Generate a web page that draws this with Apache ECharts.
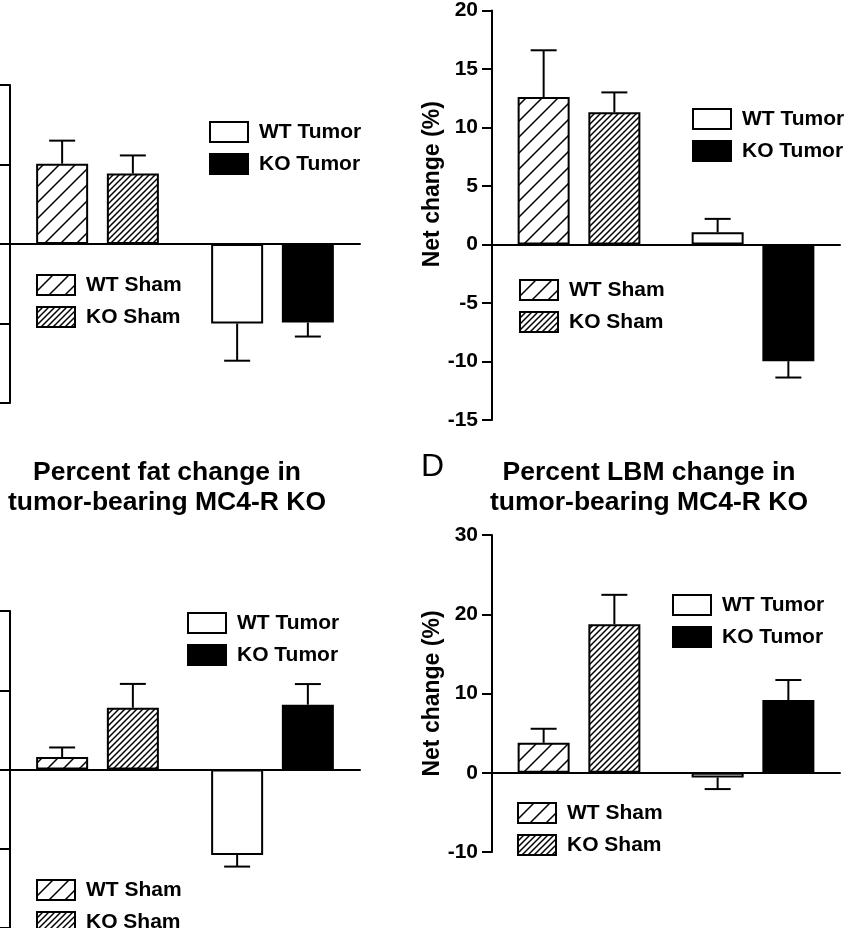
<!DOCTYPE html>
<html>
<head>
<meta charset="utf-8">
<script src="https://cdn.jsdelivr.net/npm/echarts@6/dist/echarts.min.js"></script>
<style>html,body{margin:0;padding:0;background:#fff}#c{width:850px;height:928px}</style>
</head>
<body>
<div id="c"></div>
<script>
// ---- data ----
const groups = ["Sham", "Tumor"];
const seriesNames = ["WT Sham", "KO Sham", "WT Tumor", "KO Tumor"];
// Panel A (top-left, axis labels cropped out)
const aMeans = [5.05, 4.43, -5.0, -4.94];
const aSem   = [1.45, 1.14, 2.34, 0.88];
const aTicks = [-10, -5, 0, 5, 10];
// Panel B (top-right)
const bMeans = [12.6, 11.3, 1.04, -9.97];
const bSem   = [4.0, 1.7, 1.15, 1.4];
const bTicks = [-15, -10, -5, 0, 5, 10, 15, 20];
// Panel C (bottom-left, axis labels cropped out)
const cMeans = [1.58, 7.8, -10.78, 8.18];
const cSem   = [1.2, 3.0, 1.47, 2.6];
const cTicks = [-20, -10, 0, 10, 20];
// Panel D (bottom-right)
const dMeans = [3.78, 18.75, -0.59, 9.17];
const dSem   = [1.77, 3.7, 1.47, 2.53];
const dTicks = [-10, 0, 10, 20, 30];

const yName = "Net change (%)";
const titleC = "Percent fat change in\ntumor-bearing MC4-R KO";
const titleD = "Percent LBM change in\ntumor-bearing MC4-R KO";
const panelLetter = "D";

// ---- styling ----
const FONT = '"Liberation Sans", Arial, Helvetica, sans-serif';
const BW = 52, GAP = 0.36;

function hatch(period, lw) {
  const c = document.createElement('canvas');
  c.width = c.height = period;
  const g = c.getContext('2d');
  g.fillStyle = '#fff'; g.fillRect(0, 0, period, period);
  g.strokeStyle = '#000'; g.lineWidth = lw;
  g.beginPath();
  g.moveTo(-1, period + 1); g.lineTo(period + 1, -1);
  g.moveTo(-period / 2 - 1, period / 2 + 1); g.lineTo(period / 2 + 1, -period / 2 - 1);
  g.moveTo(period / 2 - 1, period * 1.5 + 1); g.lineTo(period * 1.5 + 1, period / 2 - 1);
  g.stroke();
  return c;
}
const fills = [
  { image: hatch(16, 1.5), repeat: 'repeat' },
  { image: hatch(6, 1.5), repeat: 'repeat' },
  '#ffffff',
  '#000000'
];
const stacks = ['WT', 'KO', 'WT', 'KO'];

const panels = [
  { means: aMeans, sem: aSem, ticks: aTicks, grid: { left: 10, top: 85, width: 350, height: 318 }, labels: false,
    tumorLeg: { left: 209, top: 121 }, shamLeg: { left: 36, top: 274 } },
  { means: bMeans, sem: bSem, ticks: bTicks, grid: { left: 492, top: 7, width: 348, height: 413 }, labels: true, namePad: 62,
    tumorLeg: { left: 692, top: 108 }, shamLeg: { left: 519, top: 279 } },
  { means: cMeans, sem: cSem, ticks: cTicks, grid: { left: 10, top: 611, width: 350, height: 318 }, labels: false,
    tumorLeg: { left: 187, top: 612 }, shamLeg: { left: 36, top: 879 } },
  { means: dMeans, sem: dSem, ticks: dTicks, grid: { left: 492, top: 535, width: 348, height: 317 }, labels: true, namePad: 0,
    tumorLeg: { left: 672, top: 594 }, shamLeg: { left: 517, top: 802 } }
];

const grid = [], xAxis = [], yAxis = [], series = [], legend = [];
panels.forEach((p, pi) => {
  grid.push(Object.assign({ containLabel: false }, p.grid));
  xAxis.push({
    type: 'category', gridIndex: pi, data: groups,
    axisLine: { onZero: true, lineStyle: { color: '#000', width: 2 } },
    axisTick: { show: false }, axisLabel: { show: false }, splitLine: { show: false }
  });
  const t = p.ticks;
  yAxis.push({
    type: 'value', gridIndex: pi, min: t[0], max: t[t.length - 1], interval: t[1] - t[0],
    name: p.labels ? yName : '', nameLocation: 'middle', nameGap: 47,
    nameTextStyle: { fontFamily: FONT, fontWeight: 'bold', fontSize: 23, color: '#000', padding: [0, 0, 0, p.namePad || 0] },
    axisLine: { show: true, lineStyle: { color: '#000', width: 2 } },
    axisTick: { show: true, length: 10, lineStyle: { color: '#000', width: 2 } },
    axisLabel: { show: p.labels, fontFamily: FONT, fontWeight: 'bold', fontSize: 21, color: '#000', margin: 14 },
    splitLine: { show: false }
  });
  const names = seriesNames.map(n => n + (pi === 0 ? '' : '\u200B'.repeat(pi)));
  seriesNames.forEach((n, si) => {
    const data = groups.map((g, gi) => (gi === (si < 2 ? 0 : 1) ? p.means[si] : null));
    series.push({
      type: 'bar', name: names[si], xAxisIndex: pi, yAxisIndex: pi, stack: stacks[si] + pi,
      barWidth: BW, barGap: (GAP * 100) + '%', data: data,
      itemStyle: { color: fills[si], borderColor: '#000', borderWidth: 2 },
      emphasis: { disabled: true }, silent: true
    });
  });
  const errData = p.means.map((m, si) => [si < 2 ? 0 : 1, m, p.sem[si], si % 2 === 0 ? -1 : 1]);
  series.push({
    type: 'custom', xAxisIndex: pi, yAxisIndex: pi, data: errData, z: 1, silent: true,
    encode: { x: 0, y: 1 },
    renderItem: function (params, api) {
      const m = api.value(1), s = api.value(2), side = api.value(3);
      const sign = m >= 0 ? 1 : -1;
      const a = api.coord([api.value(0), m]);
      const b = api.coord([api.value(0), m + sign * s]);
      const x = a[0] + side * (BW + BW * GAP) / 2;
      const st = { stroke: '#000', lineWidth: 2 };
      return { type: 'group', children: [
        { type: 'line', shape: { x1: x, y1: a[1], x2: x, y2: b[1] }, style: st },
        { type: 'line', shape: { x1: x - 13, y1: b[1], x2: x + 13, y2: b[1] }, style: st }
      ] };
    }
  });
  const legBase = {
    orient: 'vertical', padding: 0, itemGap: 10, itemWidth: 38, itemHeight: 20, icon: 'rect',
    selectedMode: false, height: 80,
    itemStyle: { borderColor: '#000', borderWidth: 2 },
    textStyle: { fontFamily: FONT, fontWeight: 'bold', fontSize: 21, color: '#000', padding: [0, 0, 0, 6] }
  };
  legend.push(Object.assign({}, legBase, p.tumorLeg, { data: [names[2], names[3]] }));
  legend.push(Object.assign({}, legBase, p.shamLeg, { data: [names[0], names[1]] }));
});

const chart = echarts.init(document.getElementById('c'), null, { renderer: 'canvas' });
chart.setOption({
  backgroundColor: '#fff',
  animation: false,
  grid, xAxis, yAxis, series, legend,
  graphic: [
    { type: 'text', x: 167, y: 458, style: { text: titleC, font: 'bold 26.5px ' + FONT, fill: '#000', textAlign: 'center', textVerticalAlign: 'top', lineHeight: 30 } },
    { type: 'text', x: 649, y: 458, style: { text: titleD, font: 'bold 26.5px ' + FONT, fill: '#000', textAlign: 'center', textVerticalAlign: 'top', lineHeight: 30 } },
    { type: 'text', x: 421, y: 467, style: { text: panelLetter, font: '32px ' + FONT, fill: '#000', textAlign: 'left', textVerticalAlign: 'middle' } }
  ]
});
</script>
</body>
</html>
